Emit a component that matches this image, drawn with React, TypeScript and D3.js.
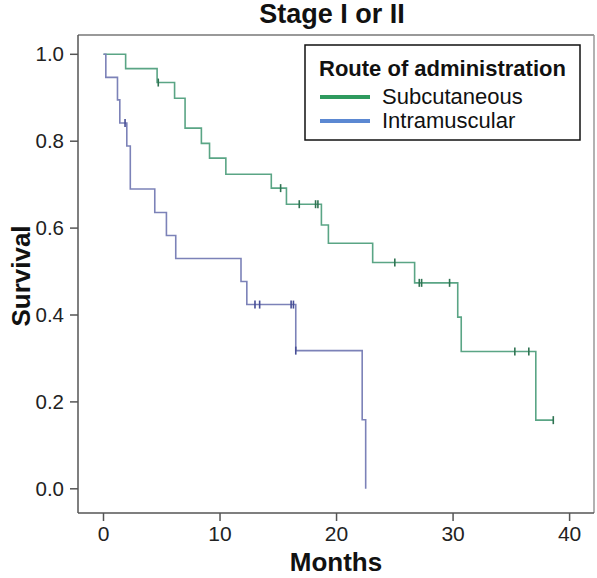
import React from "react";
import * as d3 from "d3";

const greenTimes = [0, 1.9, 4.6, 6.1, 7.0, 8.4, 9.1, 10.5, 14.4, 15.7, 18.7, 19.3, 23.1, 26.7, 30.4, 30.7, 37.1, 38.6];
const greenSurv = [1.0, 0.967, 0.935, 0.899, 0.83, 0.795, 0.761, 0.724, 0.692, 0.655, 0.607, 0.565, 0.521, 0.474, 0.395, 0.316, 0.158, 0.158];
const greenCensor = [4.7, 15.2, 16.8, 18.2, 18.4, 25.0, 27.1, 27.3, 29.7, 35.3, 36.5, 38.6];

const blueTimes = [0, 0.2, 1.2, 1.4, 2.0, 2.3, 4.4, 5.4, 6.2, 11.8, 12.3, 16.5, 22.2, 22.5];
const blueSurv = [1.0, 0.947, 0.895, 0.842, 0.789, 0.69, 0.636, 0.583, 0.53, 0.477, 0.424, 0.318, 0.159, 0.0];
const blueCensor = [1.85, 13.0, 13.4, 16.1, 16.3, 16.5];

const xTicks = [0, 10, 20, 30, 40];
const yTicks = [0, 0.2, 0.4, 0.6, 0.8, 1.0];

const seriesNames = ["Subcutaneous", "Intramuscular"];

const FONT = "'Liberation Sans', Arial, sans-serif";

function survAt(times: number[], surv: number[], t: number) {
  let s = surv[0];
  for (let i = 0; i < times.length; i++) if (times[i] <= t) s = surv[i];
  return s;
}

export default function App() {
  const W = 597, H = 578;
  const frame = { l: 78, t: 35, r: 594, b: 513 };
  const x = d3.scaleLinear().domain([0, 40]).range([103.5, 569.6]);
  const y = d3.scaleLinear().domain([0, 1]).range([488.8, 54.3]);
  const line = d3
    .line<[number, number]>()
    .x((d) => x(d[0]))
    .y((d) => y(d[1]))
    .curve(d3.curveStepAfter);

  const greenPts = greenTimes.map((t, i) => [t, greenSurv[i]] as [number, number]);
  const bluePts = blueTimes.map((t, i) => [t, blueSurv[i]] as [number, number]);

  const greenLine = "#5aa585";
  const blueLine = "#7c82b8";
  const greenMark = "#2f7352";
  const blueMark = "#474e96";

  return (
    <svg width={W} height={H} style={{ position: "absolute", left: 0, top: 0, background: "#fff" }} fontFamily={FONT}>
      <text x={332} y={23} textAnchor="middle" fontSize={27} fontWeight="bold" fill="#111">
        Stage I or II
      </text>
      {/* frame */}
      <line x1={frame.l} x2={frame.r} y1={frame.t} y2={frame.t} stroke="#777" strokeWidth={1.5} />
      <line x1={frame.r} x2={frame.r} y1={frame.t} y2={frame.b} stroke="#999" strokeWidth={1.5} />
      <line x1={frame.l} x2={frame.l} y1={frame.t} y2={frame.b} stroke="#555" strokeWidth={1.5} />
      <line x1={frame.l} x2={frame.r} y1={frame.b} y2={frame.b} stroke="#555" strokeWidth={1.5} />
      {/* y ticks */}
      {yTicks.map((v) => (
        <g key={"y" + v}>
          <line x1={frame.l - 8} x2={frame.l} y1={y(v)} y2={y(v)} stroke="#555" strokeWidth={1.5} />
          <text x={frame.l - 14} y={y(v) + 7} textAnchor="end" fontSize={20.5} fill="#222">
            {d3.format(".1f")(v)}
          </text>
        </g>
      ))}
      {/* x ticks */}
      {xTicks.map((v) => (
        <g key={"x" + v}>
          <line x1={x(v)} x2={x(v)} y1={frame.b} y2={frame.b + 8} stroke="#555" strokeWidth={1.5} />
          <text x={x(v)} y={frame.b + 28} textAnchor="middle" fontSize={21} fill="#222">
            {v}
          </text>
        </g>
      ))}
      <text x={336} y={571} textAnchor="middle" fontSize={26} fontWeight="bold" fill="#111">
        Months
      </text>
      <text
        transform={`translate(30, 276) rotate(-90)`}
        textAnchor="middle"
        fontSize={26}
        fontWeight="bold"
        fill="#111"
      >
        Survival
      </text>
      {/* curves */}
      <path d={line(greenPts) || ""} fill="none" stroke={greenLine} strokeWidth={1.6} />
      <path d={line(bluePts) || ""} fill="none" stroke={blueLine} strokeWidth={1.6} />
      {greenCensor.map((t, i) => {
        const s = survAt(greenTimes, greenSurv, t);
        return <line key={"gc" + i} x1={x(t)} x2={x(t)} y1={y(s) - 4} y2={y(s) + 4} stroke={greenMark} strokeWidth={1.6} />;
      })}
      {blueCensor.map((t, i) => {
        const s = survAt(blueTimes, blueSurv, t);
        return <line key={"bc" + i} x1={x(t)} x2={x(t)} y1={y(s) - 4} y2={y(s) + 4} stroke={blueMark} strokeWidth={1.6} />;
      })}
      {/* legend */}
      <rect x={305} y={45} width={275} height={95} fill="#fff" stroke="#111" strokeWidth={1.5} />
      <text x={319} y={76} fontSize={22} fontWeight="bold" fill="#111">
        Route of administration
      </text>
      <line x1={320} x2={370} y1={97} y2={97} stroke="#2e9a5e" strokeWidth={4} />
      <text x={382} y={104} fontSize={22} fill="#111">
        {seriesNames[0]}
      </text>
      <line x1={320} x2={370} y1={121} y2={121} stroke="#5b88d2" strokeWidth={4} />
      <text x={382} y={128} fontSize={22} fill="#111">
        {seriesNames[1]}
      </text>
    </svg>
  );
}
